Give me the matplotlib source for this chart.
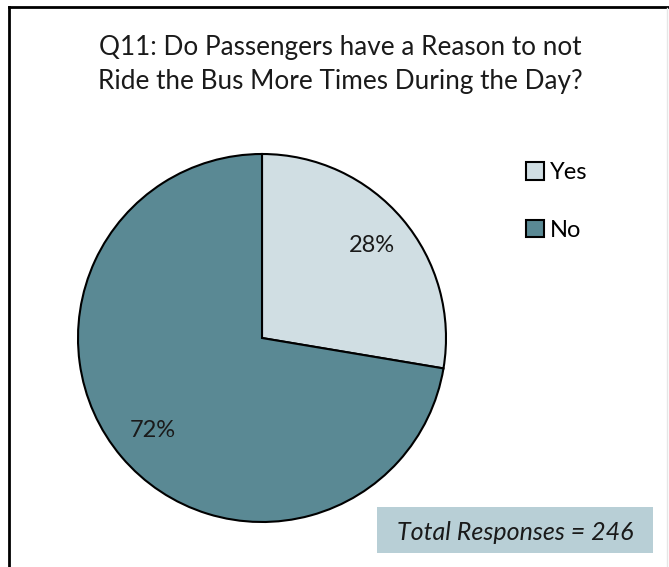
import matplotlib
matplotlib.use('Agg')
import matplotlib.pyplot as plt
from matplotlib.patches import Rectangle

labels = ['Yes', 'No']
counts = [68, 178]
colors = ['#d0dee3', '#5a8994']
total = sum(counts)

plt.rcParams['font.family'] = 'Lato'

fig = plt.figure(figsize=(6.69, 5.67), dpi=100)

# chart frame (only left/top edges fall inside the image)
fig.add_artist(plt.Line2D([9 / 669, 9 / 669], [0, 1 - 7 / 567], transform=fig.transFigure,
                          color='black', lw=2))
fig.add_artist(plt.Line2D([9 / 669, 1], [1 - 7 / 567, 1 - 7 / 567], transform=fig.transFigure,
                          color='black', lw=2))
fig.add_artist(plt.Line2D([667 / 669, 667 / 669], [0, 1 - 8 / 567], transform=fig.transFigure,
                          color='#e6e6e6', lw=1))

fig.text(340 / 669, 1 - 65 / 567,
         'Q11: Do Passengers have a Reason to not\nRide the Bus More Times During the Day?',
         ha='center', va='center', fontsize=18.8, linespacing=1.45, color='#1a1a1a')

ax = fig.add_axes([78 / 669, 45 / 567, 368 / 669, 368 / 567])
wedges, texts, autotexts = ax.pie(
    counts, colors=colors, startangle=90, counterclock=False,
    autopct=lambda p: f'{p:.0f}%', pctdistance=0.78,
    wedgeprops=dict(edgecolor='black', linewidth=1.5),
    textprops=dict(fontsize=17, color='#1a1a1a'))
ax.set_xlim(-1, 1)
ax.set_ylim(-1, 1)
ax.set_aspect('equal')
for w in wedges:
    w.set_clip_on(False)

leg = fig.legend(wedges, labels, loc='upper left', bbox_to_anchor=(505 / 669, 1 - 141 / 567),
                 frameon=False, fontsize=17, handlelength=0.75, handleheight=0.75,
                 handletextpad=0.25, labelspacing=1.55)
for h in leg.legend_handles:
    h.set_linewidth(1.5)

fig.add_artist(Rectangle((377 / 669, 1 - 553 / 567), 276 / 669, 46 / 567,
                         transform=fig.transFigure, facecolor='#b8cfd6', edgecolor='none'))
fig.text(515 / 669, 1 - 532 / 567, f'Total Responses = {total}', ha='center', va='center',
         fontsize=18, style='italic', color='#1a1a1a')

fig.savefig('out.png', dpi=100)
